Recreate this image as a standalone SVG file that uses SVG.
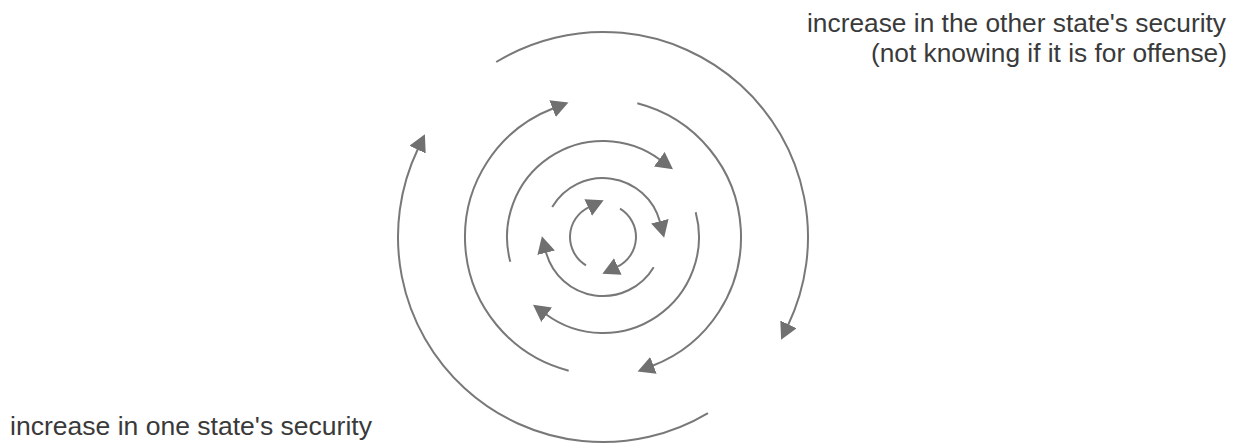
<svg xmlns="http://www.w3.org/2000/svg" width="1240" height="446" viewBox="0 0 1240 446">
<style>
.arc{fill:none;stroke:#787878;stroke-width:2;marker-end:url(#ah)}
.lbl{font-family:"Liberation Sans",Arial,sans-serif;font-size:25px;fill:#3a3a3a}
</style>
<defs>
<marker id="ah" markerUnits="userSpaceOnUse" markerWidth="20" markerHeight="20" refX="1" refY="9" orient="auto">
<path d="M0,0 L17,9 L0,18 z" fill="#707070"/>
</marker>
</defs>
<rect width="1240" height="446" fill="#fff"/>
<g id="connectors">
<path class="arc" d="M496.2,62 A205,205 0 0 1 788,325.3"/>
<path class="arc" d="M708,413.1 A205,205 0 0 1 418,148.7"/>
<path class="arc" d="M568.7,370.7 A138,138 0 0 1 553.5,108.2"/>
<path class="arc" d="M637.3,103.3 A138,138 0 0 1 652.5,365.8"/>
<path class="arc" d="M510.3,261.8 A96,96 0 0 1 660.1,159.8"/>
<path class="arc" d="M695.7,212.2 A96,96 0 0 1 545.9,314.2"/>
<path class="arc" d="M552.2,207.1 A59,59 0 0 1 660.1,222.2"/>
<path class="arc" d="M653.7,267.2 A59,59 0 0 1 545.9,251.8"/>
<path class="arc" d="M586,265.3 A33,33 0 0 1 589.1,207.1"/>
<path class="arc" d="M620,208.7 A33,33 0 0 1 616.9,266.9"/>
</g>
<g id="label-other">
<text class="lbl" x="1226" y="32" text-anchor="end" textLength="419" lengthAdjust="spacingAndGlyphs">increase in the other state's security</text>
<text class="lbl" x="1227" y="62" text-anchor="end" textLength="356" lengthAdjust="spacingAndGlyphs">(not knowing if it is for offense)</text>
</g>
<g id="label-one">
<text class="lbl" x="10" y="435" textLength="362" lengthAdjust="spacingAndGlyphs">increase in one state's security</text>
</g>
</svg>
